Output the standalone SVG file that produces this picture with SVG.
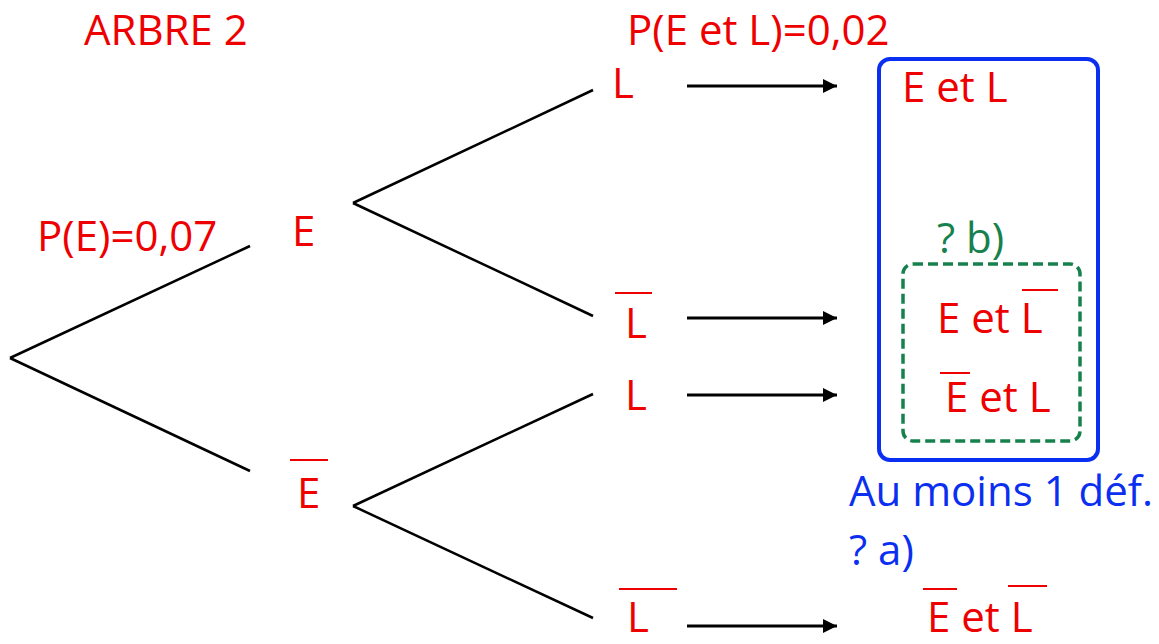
<svg xmlns="http://www.w3.org/2000/svg" width="1159" height="644" viewBox="0 0 1159 644">
<style>
  text { font-family: "Open Sans", "Liberation Sans", sans-serif; font-size: 42px; }
  .red { fill: #ee0000; }
  .blue { fill: #0b2ff0; }
  .green { fill: #17814d; }
  .bar { stroke: #ee0000; stroke-width: 2; }
  .branch { stroke: #000; stroke-width: 2.5; fill: none; }
  .arrow { stroke: #000; stroke-width: 3; fill: none; marker-end: url(#ah); }
</style>
<defs>
  <marker id="ah" viewBox="0 0 10 10" refX="10" refY="5" markerUnits="userSpaceOnUse" markerWidth="16" markerHeight="14" orient="auto">
    <path d="M0,0 L10,5 L0,10 z" fill="#000"/>
  </marker>
</defs>
<rect width="1159" height="644" fill="#fff"/>

<g id="connectors">
  <line class="branch" x1="10" y1="358" x2="250" y2="246"/>
  <line class="branch" x1="10" y1="358" x2="250" y2="471"/>
  <line class="branch" x1="353" y1="203" x2="593" y2="90"/>
  <line class="branch" x1="353" y1="203" x2="593" y2="316"/>
  <line class="branch" x1="353" y1="506" x2="593" y2="394"/>
  <line class="branch" x1="353" y1="506" x2="593" y2="618"/>
  <line class="arrow" x1="687" y1="86" x2="837" y2="86"/>
  <line class="arrow" x1="687" y1="318" x2="837" y2="318"/>
  <line class="arrow" x1="687" y1="395" x2="837" y2="395"/>
  <line class="arrow" x1="687" y1="626" x2="837" y2="626"/>
</g>

<g id="title"><text class="red" x="84" y="45">ARBRE 2</text></g>
<g id="pE"><text class="red" x="37" y="251">P(E)=0,07</text></g>
<g id="nodeE"><text class="red" x="292" y="246">E</text></g>
<g id="nodeEbar"><text class="red" x="297" y="508">E</text><line class="bar" x1="290" y1="460" x2="328" y2="460"/></g>
<g id="pEL"><text class="red" x="627" y="45">P(E et L)=0,02</text></g>
<g id="nodeL1"><text class="red" x="612" y="98">L</text></g>
<g id="nodeLbar1"><text class="red" x="625" y="338">L</text><line class="bar" x1="615" y1="293" x2="652" y2="293"/></g>
<g id="nodeL2"><text class="red" x="625" y="410">L</text></g>
<g id="nodeLbar2"><text class="red" x="627" y="632">L</text><line class="bar" x1="619" y1="589" x2="677" y2="589"/></g>

<g id="boxAtLeast1">
  <rect x="879" y="59" width="219" height="401" rx="11" fill="none" stroke="#0b2ff0" stroke-width="4"/>
  <text class="blue" x="849" y="506">Au moins 1 déf.</text>
  <text class="blue" x="849" y="565">? a)</text>
</g>
<g id="resEL"><text class="red" x="902" y="102">E et L</text></g>
<g id="boxB">
  <rect x="903" y="264" width="177" height="177" rx="10" fill="none" stroke="#17814d" stroke-width="3.5" stroke-dasharray="10 5"/>
  <text class="green" x="937" y="253">? b)</text>
</g>
<g id="resELbar"><text class="red" x="937" y="333">E et L</text><line class="bar" x1="1022" y1="290" x2="1058" y2="290"/></g>
<g id="resEbarL"><text class="red" x="945" y="412">E et L</text><line class="bar" x1="940" y1="373" x2="970" y2="373"/></g>
<g id="resEbarLbar"><text class="red" x="927" y="632">E et L</text><line class="bar" x1="923" y1="589" x2="957" y2="589"/><line class="bar" x1="1008" y1="586" x2="1047" y2="586"/></g>
</svg>
